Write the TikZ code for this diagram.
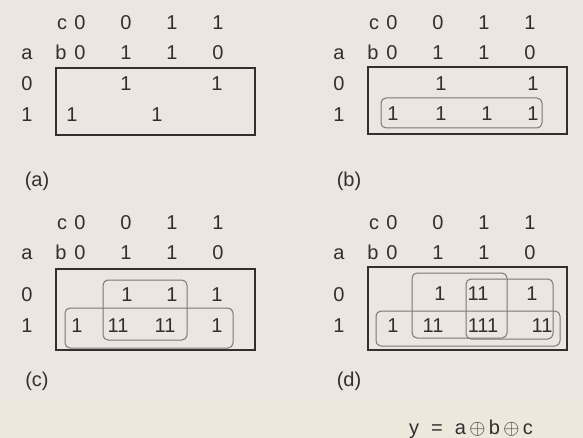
\documentclass[tikz,border=0pt]{standalone}
\usepackage{fontspec}
\setmainfont{Liberation Sans}

\definecolor{paper}{HTML}{ECE5E2}
\definecolor{paperlow}{HTML}{EDE8DC}
\definecolor{ink}{HTML}{352E2E}
\definecolor{pen}{HTML}{7D7575}

\begin{document}
\begin{tikzpicture}[x=1pt,y=-1pt,
  txt/.style={text=ink,font=\fontsize{20}{24}\selectfont,inner sep=0pt,
              text height=14.3pt,text depth=0pt,anchor=center},
  kbox/.style={draw=ink,line width=1.4pt},
  grp/.style={draw=pen,line width=1pt,rounded corners=5pt}]

% page
\fill[paper] (0,0) rectangle (583,438);
\fill[paperlow] (0,400) rectangle (583,438);
\useasboundingbox (0,0) rectangle (583,438);

% headers, row labels, frame and caption of each map
\foreach \p/\dx/\dy/\ry/\rz/\bt/\bb in {a/0/0/83/114/68/135,b/312/0/83/114/67/134,
                                        c/0/200/94/125/69/150,d/312/200/94/125/67/150}{
  \begin{scope}[shift={(\dx,\dy)}]
    \node[txt] (\p-c)  at (62,22)  {c};
    \node[txt] (\p-c0) at (80,22)  {0};
    \node[txt] (\p-c1) at (126,22) {0};
    \node[txt] (\p-c2) at (172,22) {1};
    \node[txt] (\p-c3) at (218,22) {1};
    \node[txt] (\p-a)  at (27,52)  {a};
    \node[txt] (\p-b)  at (61,52)  {b};
    \node[txt] (\p-b0) at (80,52)  {0};
    \node[txt] (\p-b1) at (126,52) {1};
    \node[txt] (\p-b2) at (172,52) {1};
    \node[txt] (\p-b3) at (218,52) {0};
    \node[txt] (\p-r0) at (27,\ry) {0};
    \node[txt] (\p-r1) at (27,\rz) {1};
    \draw[kbox] (56,\bt) rectangle (255,\bb);
    \node[txt] (\p-cap) at (37,179) {(\p)};
  \end{scope}
}

% map (a)
\node[txt] (a-01) at (126,83) {1};
\node[txt] (a-03) at (217,83) {1};
\node[txt] (a-10) at (72,114) {1};
\node[txt] (a-12) at (157,114) {1};

% map (b)
\node[txt] (b-01) at (441,83) {1};
\node[txt] (b-03) at (533,83) {1};
\node[txt] (b-10) at (393,113) {1};
\node[txt] (b-11) at (441,113) {1};
\node[txt] (b-12) at (487,113) {1};
\node[txt] (b-13) at (533,113) {1};
\draw[grp] (381,98) rectangle (542,128);

% map (c)
\node[txt] (c-01) at (127,294) {1};
\node[txt] (c-02) at (172,294) {1};
\node[txt] (c-03) at (217,294) {1};
\node[txt] (c-10) at (77,325) {1};
\node[txt] (c-11) at (118,325) {11};
\node[txt] (c-12) at (165,325) {11};
\node[txt] (c-13) at (217,325) {1};
\draw[grp] (103,280) rectangle (187,340);
\draw[grp] (65,308) rectangle (233,348);

% map (d)
\node[txt] (d-01) at (440,293) {1};
\node[txt] (d-02) at (478,293) {11};
\node[txt] (d-03) at (532,293) {1};
\node[txt] (d-10) at (393,325) {1};
\node[txt] (d-11) at (433,325) {11};
\node[txt] (d-12) at (483,325) {111};
\node[txt] (d-13) at (542,325) {11};
\draw[grp] (412,273) rectangle (507,338);
\draw[grp] (466,279) rectangle (553,339);
\draw[grp] (376,311) rectangle (560,346);

% result
\node[txt] (eqn) at (471,427) {y\hspace{12pt}=\hspace{12pt}a\,$\oplus$\,b\,$\oplus$\,c};

\end{tikzpicture}
\end{document}
